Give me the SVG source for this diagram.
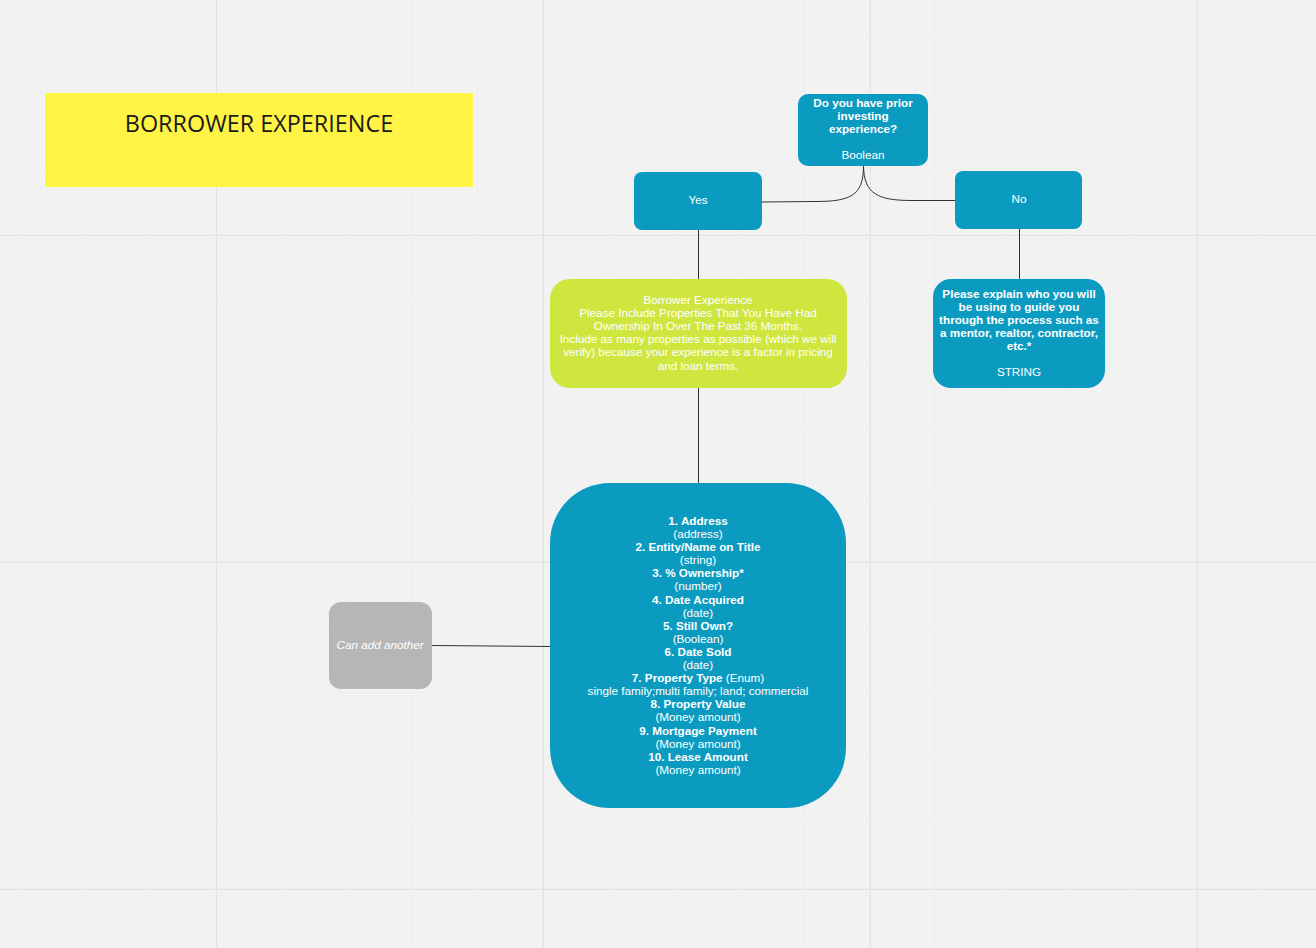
<svg xmlns="http://www.w3.org/2000/svg" width="1316" height="948" viewBox="0 0 1316 948">
<defs>
<pattern id="minor" x="19" y="38" width="65.4" height="65.4" patternUnits="userSpaceOnUse">
<path d="M0,0 V65.4 M0,0 H65.4" fill="none" stroke="#eaeaea" stroke-width="1"/>
</pattern>
<pattern id="major" x="216" y="235" width="327" height="327" patternUnits="userSpaceOnUse">
<path d="M0,0 V327 M0,0 H327" fill="none" stroke="#e3e3e3" stroke-width="2"/>
</pattern>
</defs>
<style>
.blue{fill:#0c9bc0}
.t{font-family:"Liberation Sans",Arial,Helvetica,sans-serif;font-size:11.7px;fill:#ffffff;text-anchor:middle}
.b{font-weight:bold}
.conn{fill:none;stroke:#333333;stroke-width:1}
</style>
<rect width="1316" height="948" fill="#f2f2f2"/>
<rect width="1316" height="948" fill="url(#minor)"/>
<rect width="1316" height="948" fill="url(#major)"/>

<g id="connectors">
<path class="conn" d="M863.5,166 C863.5,196 850,201.5 815,201.5 L762,202"/>
<path class="conn" d="M863.5,166 C864,194 878,200.5 912,200.5 L955,200.5"/>
<path class="conn" d="M698.5,230 L698.5,279"/>
<path class="conn" d="M1019.5,229 L1019.5,279"/>
<path class="conn" d="M698.5,388 L698.5,483"/>
<path class="conn" d="M432,645.5 L550,646.5"/>
</g>

<g id="title">
<rect x="45" y="93" width="428" height="94" fill="#fff445"/>
<text x="259" y="132" style="font-family:'Open Sans','Noto Sans',sans-serif;font-size:23.4px;fill:#1a1a1a;text-anchor:middle">BORROWER EXPERIENCE</text>
</g>

<g id="question">
<rect class="blue" x="798" y="94" width="130" height="72" rx="10"/>
<text class="t b" x="863" y="107">Do you have prior</text>
<text class="t b" x="863" y="120">investing</text>
<text class="t b" x="863" y="133">experience?</text>
<text class="t" x="863" y="159">Boolean</text>
</g>

<g id="yes">
<rect class="blue" x="634" y="172" width="128" height="58" rx="8"/>
<text class="t" x="698" y="204">Yes</text>
</g>

<g id="no">
<rect class="blue" x="955" y="171" width="127" height="58" rx="8"/>
<text class="t" x="1019" y="203">No</text>
</g>

<g id="borrower-experience">
<rect x="550" y="279" width="297" height="109" rx="20" fill="#cfe63f"/>
<text class="t" x="698" y="304">Borrower Experience</text>
<text class="t" x="698" y="317">Please Include Properties That You Have Had</text>
<text class="t" x="698" y="330">Ownership In Over The Past 36 Months.</text>
<text class="t" x="698" y="343">Include as many properties as possible (which we will</text>
<text class="t" x="698" y="356">verify) because your experience is a factor in pricing</text>
<text class="t" x="698" y="370">and loan terms.</text>
</g>

<g id="explain">
<rect class="blue" x="933" y="279" width="172" height="109" rx="18"/>
<text class="t b" x="1019" y="298">Please explain who you will</text>
<text class="t b" x="1019" y="311">be using to guide you</text>
<text class="t b" x="1019" y="324">through the process such as</text>
<text class="t b" x="1019" y="337">a mentor, realtor, contractor,</text>
<text class="t b" x="1019" y="350">etc.*</text>
<text class="t" x="1019" y="376">STRING</text>
</g>

<g id="fields">
<rect class="blue" x="550" y="483" width="296" height="325" rx="60"/>
<text class="t b" x="698" y="525">1. Address</text>
<text class="t" x="698" y="538">(address)</text>
<text class="t b" x="698" y="551">2. Entity/Name on Title</text>
<text class="t" x="698" y="564">(string)</text>
<text class="t b" x="698" y="577">3. % Ownership*</text>
<text class="t" x="698" y="590">(number)</text>
<text class="t b" x="698" y="604">4. Date Acquired</text>
<text class="t" x="698" y="617">(date)</text>
<text class="t b" x="698" y="630">5. Still Own?</text>
<text class="t" x="698" y="643">(Boolean)</text>
<text class="t b" x="698" y="656">6. Date Sold</text>
<text class="t" x="698" y="669">(date)</text>
<text class="t" x="698" y="682"><tspan class="b">7. Property Type</tspan> (Enum)</text>
<text class="t" x="698" y="695">single family;multi family; land; commercial</text>
<text class="t b" x="698" y="708">8. Property Value</text>
<text class="t" x="698" y="721">(Money amount)</text>
<text class="t b" x="698" y="735">9. Mortgage Payment</text>
<text class="t" x="698" y="748">(Money amount)</text>
<text class="t b" x="698" y="761">10. Lease Amount</text>
<text class="t" x="698" y="774">(Money amount)</text>
</g>

<g id="add-another">
<rect x="329" y="602" width="103" height="87" rx="12" fill="#b6b6b6"/>
<text class="t" x="380" y="649" font-style="italic">Can add another</text>
</g>
</svg>
